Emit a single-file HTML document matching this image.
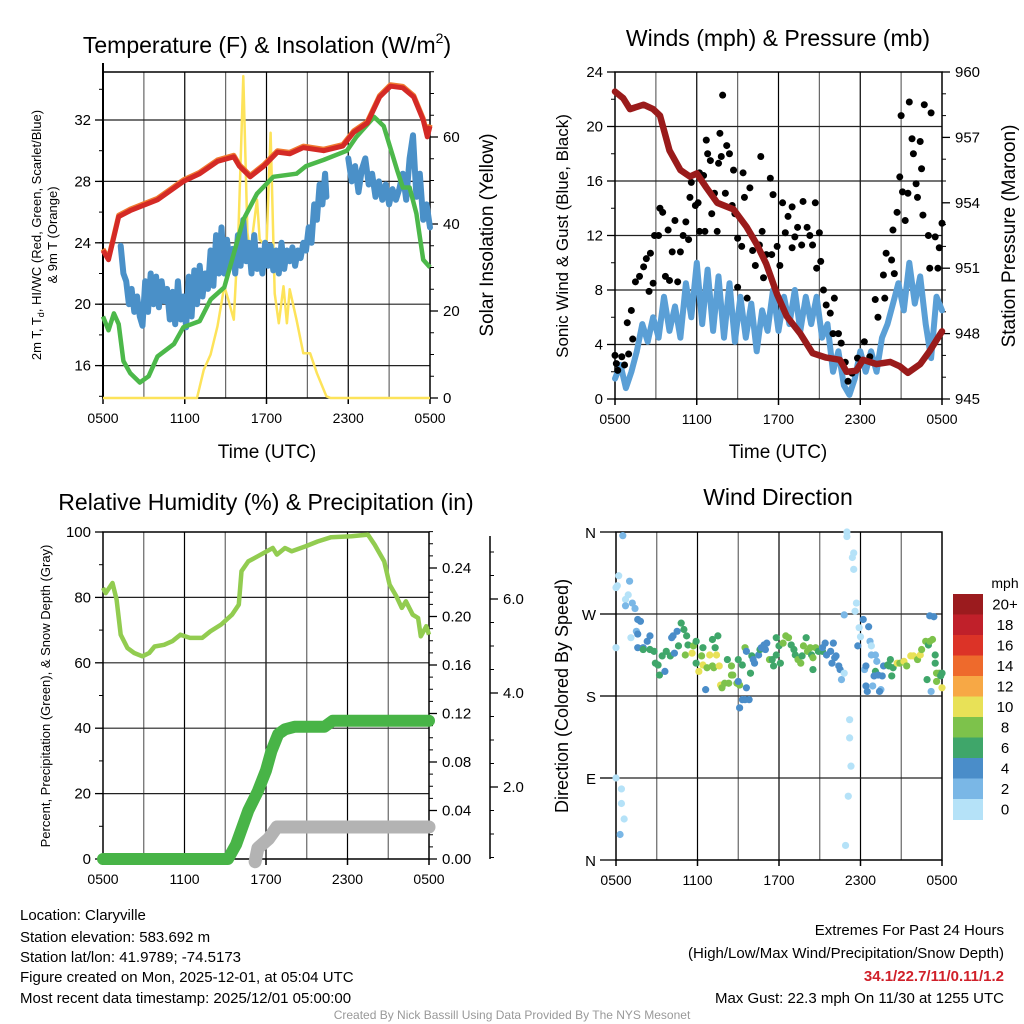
<!DOCTYPE html>
<html><head><meta charset="utf-8"><style>
html,body{margin:0;padding:0;background:#fff;}
svg{display:block;font-family:"Liberation Sans",Arial,sans-serif;}
</style></head><body>
<svg id="c" width="1024" height="1024" viewBox="0 0 1024 1024" xmlns="http://www.w3.org/2000/svg">
<g id="g"></g>
<g fill="#000">
<text x="267" y="53" font-size="23" text-anchor="middle">Temperature (F) &amp; Insolation (W/m<tspan font-size="14" dy="-10">2</tspan><tspan dy="10">)</tspan></text>
<text x="778" y="46" font-size="23" text-anchor="middle">Winds (mph) &amp; Pressure (mb)</text>
<text x="266" y="510" font-size="23" text-anchor="middle">Relative Humidity (%) &amp; Precipitation (in)</text>
<text x="778" y="505" font-size="23" text-anchor="middle">Wind Direction</text>
<text x="267" y="458" font-size="19" text-anchor="middle">Time (UTC)</text>
<text x="778" y="458" font-size="19" text-anchor="middle">Time (UTC)</text>
<text transform="translate(41,235) rotate(-90)" font-size="13" text-anchor="middle">2m T, T<tspan font-size="9" dy="3">d</tspan><tspan dy="-3">, HI/WC (Red, Green, Scarlet/Blue)</tspan></text>
<text transform="translate(57,235) rotate(-90)" font-size="13" text-anchor="middle">&amp; 9m T (Orange)</text>
<text transform="translate(493,235) rotate(-90)" font-size="19" text-anchor="middle">Solar Insolation (Yellow)</text>
<text transform="translate(568,236) rotate(-90)" font-size="17" text-anchor="middle">Sonic Wind &amp; Gust (Blue, Black)</text>
<text transform="translate(1015,236) rotate(-90)" font-size="19" text-anchor="middle">Station Pressure (Maroon)</text>
<text transform="translate(50,696) rotate(-90)" font-size="13" text-anchor="middle">Percent, Precipitation (Green), &amp; Snow Depth (Gray)</text>
<text transform="translate(568,696) rotate(-90)" font-size="18" text-anchor="middle">Direction (Colored By Speed)</text>
<text x="1005" y="588" font-size="14" text-anchor="middle">mph</text>
</g>
<g font-size="15" fill="#000">
<text x="20" y="920">Location: Claryville</text>
<text x="20" y="942">Station elevation: 583.692 m</text>
<text x="20" y="962">Station lat/lon: 41.9789; -74.5173</text>
<text x="20" y="982">Figure created on Mon, 2025-12-01, at 05:04 UTC</text>
<text x="20" y="1003">Most recent data timestamp: 2025/12/01 05:00:00</text>
<text x="1004" y="935" text-anchor="end">Extremes For Past 24 Hours</text>
<text x="1004" y="958" text-anchor="end">(High/Low/Max Wind/Precipitation/Snow Depth)</text>
<text x="1004" y="981" text-anchor="end" font-weight="bold" fill="#d0202a">34.1/22.7/11/0.11/1.2</text>
<text x="1004" y="1003" text-anchor="end">Max Gust: 22.3 mph On 11/30 at 1255 UTC</text>
<text x="512" y="1019" text-anchor="middle" font-size="12" fill="#999">Created By Nick Bassill Using Data Provided By The NYS Mesonet</text>
</g>
</svg>
<script>
// ---- Panel 1 data (hours since 0500 UTC) ----
const tempT = [0,0.4,1.15,2,4,5.9,7.1,8.4,9.6,10,10.8,11.8,12.8,13.7,14.7,16.2,17.6,18.4,19.4,20.3,21.1,22,22.8,23.5,23.8,24];
const tempV = [23.5,22.9,25.7,26.1,26.8,28,28.5,29.3,29.6,29,28.3,29,29.9,29.8,30.2,30,30.3,31.2,31.8,33.5,34.2,34.1,33.5,32,30.9,31.6];
const hiT = [0,0.4,0.8,1.15,1.5,2,2.7,3.35,4,5.2,5.9,7.1,7.9,8.9,9.6,10.3,11.3,12.5,14.2,14.9,16.2,17.9,18.6,19.9,20.6,21.6,22,22.5,23,23.5,24];
const hiV = [19.2,18.3,19.4,18.7,16.3,15.5,14.9,15.3,16.6,17.4,18.5,18.9,20.3,21.1,23.3,25.5,27.2,28.3,28.5,29,29.4,30,30.9,32.2,31.6,28.7,27.6,27.6,25.9,22.9,22.4];
const dewT = [1.3,1.5,1.7,1.9,2.1,2.3,2.5,2.7,2.9,3.1,3.3,3.5,3.7,3.9,4.1,4.3,4.5,4.7,4.9,5.1,5.3,5.5,5.7,5.9,6.1,6.3,6.5,6.7,6.9,7.1,7.3,7.5,7.7,7.9,8.1,8.3,8.5,8.7,8.9,9.1,9.3,9.5,9.7,9.9,10.1,10.3,10.5,10.7,10.9,11.1,11.3,11.5,11.7,11.9,12.1,12.3,12.5,12.7,12.9,13.1,13.3,13.5,13.7,13.9,14.1,14.3,14.5,14.7,14.9,15.1,15.3,15.5,15.7,15.9,16.1,16.3,16.4];
const dewV = [23.8,22.0,21.5,20.0,21.0,19.5,20.5,19.2,18.6,21.5,19.5,22.0,20.0,21.8,19.8,21.5,20.2,21.0,19.0,20.8,18.7,21.5,19.0,20.5,18.5,21.8,19.2,22.2,20.0,22.5,20.5,22.0,21.0,23.5,21.2,24.5,22.0,25.0,22.0,24.2,22.5,23.6,22.0,24.5,22.5,25.5,22.8,24.0,22.0,24.5,22.3,23.5,22.0,24.0,22.5,23.8,22.2,23.5,22.0,24.0,22.3,23.5,22.8,23.7,22.5,23.5,23.0,24.0,23.5,25.0,24.0,26.5,25.5,27.8,26.5,28.5,27.0];
const dew2T = [18,18.25,18.5,18.75,19,19.25,19.5,19.75,20,20.25,20.5,20.75,21,21.25,21.5,21.75,22,22.25,22.5,22.75,23,23.25,23.5,23.75,24];
const dew2V = [29.5,28.0,29.0,27.3,28.8,29.5,27.8,28.5,27.0,28.0,26.8,27.8,26.5,27.5,26.8,27.5,28.5,26.8,29.5,31.0,27.0,28.5,25.5,26.5,25.0];
const solT = [0,6.9,7.4,7.9,8.4,8.9,9.2,9.6,9.95,10.3,10.6,10.8,11.3,11.5,12,12.3,12.6,12.9,13.25,13.5,13.7,14.2,14.7,15.2,15.7,16.4,16.7,24];
const solV = [0,0,6.5,10,16.5,25.7,22.6,18,39.5,74,38,33.3,45.6,36.4,34.9,61,24,17.2,25.7,17.2,25,18,10.3,10.3,5.7,0.4,0,0];
const tempTicks = [16,20,24,28,32];
const solTicks = [0,20,40,60];
const timeLabels = ["0500","1100","1700","2300","0500"];
// ---- Panel 2 data ----
const presT = [0,0.6,1.1,2.1,2.8,3.3,4,4.8,5.5,6,6.7,7.5,8.7,9.65,10.4,11.1,11.9,12.6,13.6,14.5,15.5,16.5,17,17.7,18.2,19.2,20.2,20.9,21.5,22.4,23.1,24];
const presV = [959.1,958.8,958.3,958.5,958.3,958,956.4,955.5,955.2,955.35,954.7,954,953.7,952.9,952.1,951.2,949.8,948.8,948,947.1,946.9,946.8,946.25,946.3,946.8,946.6,946.7,946.5,946.2,946.6,947.2,948.1];
const windT = [0,0.4,0.8,1.2,1.6,2.0,2.4,2.8,3.2,3.6,4.0,4.4,4.8,5.2,5.6,6.0,6.4,6.8,7.2,7.6,8.0,8.4,8.8,9.2,9.6,10.0,10.4,10.8,11.2,11.6,12.0,12.4,12.8,13.2,13.6,14.0,14.4,14.8,15.2,15.6,16.0,16.4,16.8,17.2,17.6,18.0,18.4,18.8,19.2,19.6,20.0,20.4,20.8,21.2,21.6,22.0,22.4,22.8,23.2,23.6,24.0];
const windV = [1.5,2.5,0.8,2.0,3.5,5.5,4.2,6.0,4.5,7.5,5.0,6.8,4.5,8.5,6.0,10.0,5.5,9.5,5.0,9.0,4.5,8.5,4.2,7.5,4.5,7.0,3.5,6.5,5.0,8.0,5.0,7.5,5.5,8.0,5.0,7.5,5.5,7.5,4.5,5.5,2.0,3.5,1.0,0.3,1.5,3.5,2.0,3.5,2.0,4.5,5.5,7.0,8.5,6.5,10.0,7.0,9.0,5.5,3.0,7.5,6.5];
const gustT = [0,0.1,0.2,0.5,0.7,1.0,1.3,0.9,1.2,1.5,1.8,2.1,2.3,2.6,2.5,2.8,2.9,3.2,3.3,3.5,3.7,3.9,4.0,4.2,4.4,4.6,4.8,5.0,5.2,5.4,5.5,5.6,5.9,6.1,6.2,6.2,6.5,6.6,6.7,6.8,7.0,7.1,7.3,7.5,7.6,7.7,7.8,7.9,8.1,8.2,8.4,8.6,8.7,8.8,9.0,9.0,9.3,9.4,9.5,9.7,9.9,10.1,10.3,10.6,10.7,10.8,10.9,11.1,11.4,11.5,11.6,11.9,12.1,12.3,12.5,12.7,13.0,13.0,13.2,13.4,13.7,13.8,14.1,14.3,14.5,14.7,14.8,15.0,15.1,15.3,15.5,15.8,16.0,16.1,16.4,16.6,16.9,17.1,17.4,17.8,18.3,18.7,19.1,19.3,19.7,19.8,19.9,20.3,20.4,20.5,20.7,20.9,21.0,21.1,21.3,21.5,21.6,21.8,21.9,22.1,22.2,22.4,22.5,22.6,22.7,23.0,23.1,23.2,23.5,23.7,23.8,24.0];
const gustV = [3.2,2.6,2.1,3.1,2.5,3.3,4.4,5.6,6.5,8.6,9.0,9.7,10.3,10.7,7.9,8.5,12.0,12.0,14.0,13.7,9.0,12.4,8.7,10.8,13.1,8.6,10.8,12.0,13.0,11.7,14.8,15.9,14.2,14.4,16.6,12.3,16.4,12.3,19.0,18.0,17.5,13.6,15.1,12.3,17.3,19.5,17.8,22.3,15.1,18.6,18.0,14.2,16.8,13.6,11.8,8.2,11.2,16.6,14.8,7.4,15.5,10.9,9.8,11.3,17.8,12.3,8.9,10.6,16.2,10.6,15.0,11.2,9.8,14.4,12.2,13.4,11.1,14.1,11.9,12.6,11.3,14.5,12.6,12.0,11.3,14.4,9.6,12.2,10.1,8.0,6.9,6.3,4.8,7.4,4.8,4.1,2.7,1.3,1.9,3.0,4.2,3.1,7.3,6.0,9.1,7.4,10.7,10.2,12.4,9.2,13.7,16.3,20.8,15.2,13.1,15.1,21.8,19.1,18.0,15.8,14.8,18.9,16.9,13.5,21.6,12.0,9.6,21.0,11.9,9.6,11.1,12.9];
const windTicks = [0,4,8,12,16,20,24];
const presTicks = [945,948,951,954,957,960];
// ---- Panel 3 data ----
const rhT = [0,0.2,0.7,1.0,1.3,1.8,2.3,2.9,3.4,3.8,4.5,5.1,5.7,6.4,7.3,7.9,8.7,9.5,10,10.2,10.7,11.4,12.5,12.8,13.4,13.9,14.9,15.8,16.8,18.3,19.5,20,20.7,21.1,21.6,22,22.3,22.8,23.2,23.4,23.8,24];
const rhV = [82.9,81.3,84.4,79.3,68.6,64.5,63,62,63,65,65.5,66.6,68.6,67.6,67.6,69.6,71.7,74.7,77.8,88,91,92.6,95.1,93.1,95.1,94.1,95.6,97.1,98.4,98.7,99.2,96.1,91,83.9,80.3,76.8,78.8,74.7,73.7,68.1,71.2,68.6];
const precT = [0,9.2,9.8,10.7,11.4,12.0,12.4,12.9,13.4,14.1,16.3,16.9,24];
const precV = [0,0,0.012,0.04,0.056,0.073,0.089,0.103,0.107,0.109,0.109,0.114,0.114];
const snowT = [11.2,11.4,12.2,12.8,24];
const snowV = [0.41,0.7,0.9,1.15,1.15];
const rhTicks = [0,20,40,60,80,100];
const precTicks = ["0.00","0.04","0.08","0.12","0.16","0.20","0.24"];
const snowTicks = ["2.0","4.0","6.0"];
// ---- Panel 4 data ----
const dirT = [0,0.1,0.2,0.5,1.0,0.9,0.7,0.7,1.2,1.4,1.1,1.5,1.6,0,1.6,1.8,1.6,2.0,2.3,2.5,2.0,2.5,2.8,2.9,3.1,3.2,3.6,3.4,3.7,4.0,4.1,4.2,4.5,4.3,4.6,4.8,5.0,5.2,5.3,5.1,5.6,5.7,5.9,5.9,6.1,6.3,6.4,6.4,6.7,6.9,7.1,7.3,7.4,7.5,6.6,7.1,7.2,7.6,7.7,7.8,8.0,8.2,8.3,8.5,8.5,8.6,8.9,9.1,9.0,9.3,9.0,9.1,9.3,9.5,9.8,9.6,9.9,10.0,9.5,9.6,10.1,10.2,10.5,10.6,10.7,10.9,11.0,11.1,11.3,11.5,11.6,11.8,11.8,12.0,12.1,12.3,12.5,12.7,12.9,13.1,13.2,13.4,13.6,13.7,13.8,14.0,14.1,14.3,14.4,14.5,14.5,14.7,14.9,15.2,15.2,15.4,15.5,15.8,15.9,16.0,16.1,16.2,16.4,16.5,16.6,16.8,16.8,17.0,17.5,17.4,17.5,17.7,17.6,17.9,18.0,17.8,18.2,18.6,18.7,18.8,18.8,19.1,19.2,18.3,18.4,18.4,18.5,18.9,19.5,19.4,19.1,19.0,19.3,19.6,19.7,20.0,20.1,20.2,20.3,20.4,20.7,20.9,21.2,21.4,21.7,21.9,22.2,22.4,22.5,22.8,23.0,23.1,23.3,23.5,23.5,23.6,23.8,23.9,24.0,22.9,23.6,24.0,23.2,23.1,23.4,0,0.4,0.4,0.6,0.3,17.2,17.2,17.3,17.1,16.9,17.0];
const dirDeg = [299,301,312,356,306,291,286,279,282,276,244,251,248,233,264,262,233,233,240,246,231,231,229,216,214,203,207,224,229,224,244,246,251,227,235,260,253,246,236,225,227,235,240,216,207,224,233,214,211,225,242,233,225,246,187,213,211,213,192,189,194,220,194,203,213,203,194,192,220,214,196,167,176,176,176,189,205,224,233,229,220,216,225,231,233,236,231,238,220,220,213,244,225,235,216,238,246,244,236,231,225,220,216,224,235,244,229,233,225,222,209,233,229,229,233,238,225,229,216,238,222,224,213,209,198,205,269,355,337,332,319,282,273,255,245,235,264,256,240,235,225,225,218,209,213,191,185,191,187,185,207,202,203,202,213,214,213,220,202,211,216,216,218,213,224,224,220,225,231,240,236,240,242,225,216,205,205,202,205,198,196,189,185,268,267,90,78,62,45,28,154,134,103,70,16,360];
const dirSpd = [1,1,1,3,3,1,1,3,3,3,1,3,5,1,5,5,5,5,5,5,7,7,7,7,7,7,5,7,7,7,5,5,5,5,7,7,7,7,7,9,11,9,7,7,11,9,7,11,9,11,7,7,11,7,5,9,9,11,11,9,9,7,9,9,9,9,9,9,7,7,5,5,5,5,5,5,7,7,9,5,5,5,5,7,5,5,5,5,9,7,7,7,7,7,7,9,9,9,7,7,7,9,9,7,9,7,9,9,7,9,7,9,7,7,5,5,5,5,5,5,5,5,5,5,3,1,3,1,1,1,1,1,1,1,1,5,5,5,3,1,3,3,3,3,5,5,5,3,3,5,7,5,5,5,5,7,7,7,7,7,11,9,11,9,11,11,9,11,9,9,7,9,9,7,7,9,9,7,7,7,9,11,3,5,5,1,1,1,1,3,1,1,1,1,1,1];
const dirLabels = ["N","E","S","W","N"];
const cbLabels = ["0","2","4","6","8","10","12","14","16","18","20+"];
const cbColors = ["#b5e2f8","#7ab7e6","#4a8dc9","#3fa66a","#7dc24b","#e8e157","#f7a845","#ee6a2c","#dc3327","#c0202a","#9b1b1e"];

const NS="http://www.w3.org/2000/svg";
const G=document.getElementById('g');
function el(tag,attrs,parent){const e=document.createElementNS(NS,tag);for(const k in attrs)e.setAttribute(k,attrs[k]);(parent||G).appendChild(e);return e;}
function txt(x,y,s,anchor,size,parent){const e=el('text',{x:x,y:y,'text-anchor':anchor,'font-size':size,fill:'#000'},parent);e.textContent=s;return e;}
function path(xs,ys,T,V){let d='';for(let i=0;i<T.length;i++){d+=(i?'L':'M')+xs(T[i]).toFixed(1)+','+ys(V[i]).toFixed(1);}return d;}

function frame(x0,x1,y0,y1,hy,name){
  const g=el('g',{});
  
  
  for(let h=3;h<24;h+=3){const x=x0+h/24*(x1-x0);el('line',{x1:x,x2:x,y1:y0,y2:y1,stroke:(h%6?'#666':'#000'),'stroke-width':1.2},g);}
  hy.forEach(y=>el('line',{x1:x0,x2:x1,y1:y,y2:y,stroke:'#222','stroke-width':1.2},g));
  const b=el('rect',{x:x0,y:y0,width:x1-x0,height:y1-y0,fill:'none',stroke:'#000','stroke-width':1.5});
  
  
  timeLabels.forEach((s,i)=>{const x=x0+i*6/24*(x1-x0);el('line',{x1:x,x2:x,y1:y1,y2:y1+6,stroke:'#000','stroke-width':1.5});
    const t=txt(x,y1+25,s,'middle',14);
    
    });
}
function leftTicks(x,ys,vals,fmt,minor){vals.forEach(v=>{const y=ys(v);el('line',{x1:x-8,x2:x,y1:y,y2:y,stroke:'#000','stroke-width':1.3});const t=txt(x-12,y+5,fmt(v),'end',15);});
  (minor||[]).forEach(v=>{const y=ys(v);el('line',{x1:x-4,x2:x,y1:y,y2:y,stroke:'#000','stroke-width':1});});}
function rightTicks(x,ys,vals,fmt,minor){vals.forEach(v=>{const y=ys(v);el('line',{x1:x,x2:x+8,y1:y,y2:y,stroke:'#000','stroke-width':1.3});const t=txt(x+13,y+5,fmt(v),'start',15);});
  (minor||[]).forEach(v=>{const y=ys(v);el('line',{x1:x,x2:x+4,y1:y,y2:y,stroke:'#000','stroke-width':1});});}
function range(a,b,s){const r=[];for(let v=a;v<=b+1e-9;v+=s)r.push(+v.toFixed(4));return r;}

// ===== Panel 1 =====
(function(){
 const x0=103,x1=430,y0=72,y1=398;
 const xs=t=>x0+t/24*(x1-x0), yT=v=>120+(32-v)*15.35, yS=v=>y1-v*4.35;
 el('line',{x1:x0,x2:x0,y1:63,y2:y1,stroke:'#000','stroke-width':2});
 frame(x0,x1,y0,y1,tempTicks.map(yT),'temperature');
 leftTicks(x0,yT,tempTicks,v=>String(v),range(14,34,2));
 rightTicks(x1,yS,solTicks,v=>String(v),range(0,75,5));
 let p;
 p=el('path',{d:path(xs,yS,solT,solV),fill:'none',stroke:'#fde35a','stroke-width':2.5,'stroke-linejoin':'round'});
 
 p=el('path',{d:path(xs,yT,dewT,dewV),fill:'none',stroke:'#4a90c8','stroke-width':6,'stroke-linejoin':'round','stroke-linecap':'round'});
 
 p=el('path',{d:path(xs,yT,dew2T,dew2V),fill:'none',stroke:'#4a90c8','stroke-width':6,'stroke-linejoin':'round','stroke-linecap':'round'});
 
 p=el('path',{d:path(xs,yT,hiT,hiV),fill:'none',stroke:'#4cb84a','stroke-width':4.5,'stroke-linejoin':'round'});
 
 p=el('path',{d:path(xs,v=>yT(v)-1.5,tempT,tempV),fill:'none',stroke:'#f07a30','stroke-width':5,'stroke-linejoin':'round'});
 
 p=el('path',{d:path(xs,yT,tempT,tempV),fill:'none',stroke:'#d42a26','stroke-width':5,'stroke-linejoin':'round'});
 
})();

// ===== Panel 2 =====
(function(){
 const x0=615,x1=942,y0=72,y1=399;
 const xs=t=>x0+t/24*(x1-x0), yW=v=>y1-v*13.625, yP=v=>y1-(v-945)*21.8;
 frame(x0,x1,y0,y1,[4,8,12,16,20].map(yW),'wind');
 leftTicks(x0,yW,windTicks,v=>String(v),range(2,22,4));
 rightTicks(x1,yP,presTicks,v=>String(v),range(946,959,1).filter(v=>(v-945)%3));
 let p=el('path',{d:path(xs,yW,windT,windV),fill:'none',stroke:'#5a9fd6','stroke-width':6,'stroke-linejoin':'round','stroke-linecap':'round'});
 
 for(let i=0;i<gustT.length;i++){
  const c=el('circle',{cx:xs(gustT[i]),cy:yW(gustV[i]),r:3.5,fill:'#000'});
  
  
 }
 p=el('path',{d:path(xs,yP,presT,presV),fill:'none',stroke:'#9a1b1b','stroke-width':6.5,'stroke-linejoin':'round','stroke-linecap':'round'});
 
})();

// ===== Panel 3 =====
(function(){
 const x0=103,x1=429,y0=532,y1=859;
 const xs=t=>x0+t/24*(x1-x0), yR=v=>y1-v*3.27, yPr=v=>y1-v*1212.5, ySn=v=>881-v*47;
 frame(x0,x1,y0,y1,[20,40,60,80].map(yR),'humidity');
 leftTicks(x0,yR,rhTicks,v=>String(v),range(10,90,20));
 rightTicks(x1,yPr,precTicks.map(Number),v=>precTicks.find(s=>Number(s)===v),range(0.01,0.27,0.01).filter(v=>Math.round(v*100)%4));
 el('line',{x1:490,x2:490,y1:536,y2:y1,stroke:'#000','stroke-width':1.5});
 rightTicks(490,ySn,snowTicks.map(Number),v=>snowTicks.find(s=>Number(s)===v),[0.5,1,1.5,2.5,3,3.5,4.5,5,5.5,6.5,7]);
 let p=el('path',{d:path(xs,ySn,snowT,snowV),fill:'none',stroke:'#b3b3b3','stroke-width':13,'stroke-linejoin':'round','stroke-linecap':'round'});
 
 p=el('path',{d:path(xs,yPr,precT,precV),fill:'none',stroke:'#48b447','stroke-width':12,'stroke-linejoin':'round','stroke-linecap':'round'});
 
 p=el('path',{d:path(xs,yR,rhT,rhV),fill:'none',stroke:'#92cc50','stroke-width':4.5,'stroke-linejoin':'round'});
 
})();

// ===== Panel 4 =====
(function(){
 const x0=616,x1=942,y0=532,y1=860;
 const xs=t=>x0+t/24*(x1-x0), yD=v=>y1-v/360*(y1-y0);
 frame(x0,x1,y0,y1,[90,180,270].map(yD),'direction');
 dirLabels.forEach((s,i)=>{const y=yD(i*90);el('line',{x1:x0-16,x2:x0,y1:y,y2:y,stroke:'#000','stroke-width':1.3});
  const t=txt(x0-20,y+6,s,'end',15);});
 for(let i=0;i<dirT.length;i++){
  const k=Math.min(10,Math.floor(dirSpd[i]/2));
  const c=el('circle',{cx:xs(dirT[i]),cy:yD(dirDeg[i]),r:3.6,fill:cbColors[k]});
  
  
 }
 const h=20.5, top=594;
 for(let i=0;i<cbColors.length;i++){
  const idx=cbColors.length-1-i;
  const r=el('rect',{x:953,y:top+i*h,width:30,height:h+0.5,fill:cbColors[idx]});
  
  
  const t=txt(1005,top+i*h+h/2+5,cbLabels[idx],'middle',15);
  
  
 }
})();
</script>
</body></html>
